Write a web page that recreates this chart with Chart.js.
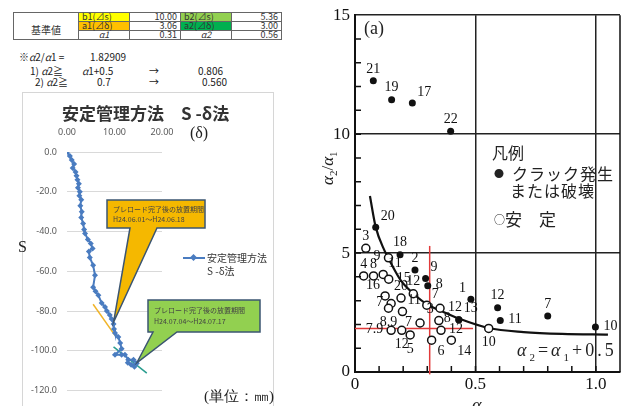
<!DOCTYPE html>
<html>
<head>
<meta charset="utf-8">
<script src="https://cdn.jsdelivr.net/npm/chart.js@4.4.1/dist/chart.umd.min.js"></script>
<style>
body{margin:0;width:628px;height:406px;overflow:hidden;position:relative;background:#fff;font-family:"Noto Sans CJK JP","Noto Sans",sans-serif;color:#222}
.t{position:absolute;white-space:nowrap;line-height:1}
.serif{font-family:"Liberation Serif","DejaVu Serif",serif}
#tbl{position:absolute;left:13px;top:12px;border-collapse:collapse;font-size:9px;color:#333}
#tbl td{border:1px solid #666;padding:0 3px;height:8px;line-height:8px}
#tbl td.n{text-align:right}
#tbl td.c{text-align:center;font-style:italic}
#tbl td.k{text-align:center;font-size:10px;padding-top:8px}
.y{background:#ffff00}.o{background:#ffc000}.lg{background:#92d050}.dg{background:#00b050}
#lframe{position:absolute;left:22px;top:92px;width:250px;height:320px;border:1px solid #d6d6d6}
#sd{position:absolute;left:22px;top:92px}
#ab{position:absolute;left:325px;top:0}
</style>
</head>
<body>

<table id="tbl">
<tr><td class="k" rowspan="3" style="width:58px">基準値</td><td class="y" style="width:44px">b1(⊿s)</td><td class="n" style="width:44px">10.00</td><td class="lg" style="width:44px">b2(⊿s)</td><td class="n" style="width:43px">5.36</td></tr>
<tr><td class="o">a1(⊿δ)</td><td class="n">3.06</td><td class="dg">a2(⊿δ)</td><td class="n">3.00</td></tr>
<tr><td class="c">α1</td><td class="n">0.31</td><td class="c">α2</td><td class="n">0.56</td></tr>
</table>

<div class="t" style="left:19px;top:52px;font-size:10px">※<i>α</i>2/<i>α</i>1 =</div>
<div class="t" style="left:90px;top:52px;font-size:10px">1.82909</div>
<div class="t" style="left:30px;top:66px;font-size:10px">1) <i>α</i>2≧</div>
<div class="t" style="left:82px;top:66px;font-size:10px"><i>α</i>1+0.5</div>
<div class="t" style="left:149px;top:66px;font-size:10px">→</div>
<div class="t" style="left:198px;top:66px;font-size:10px">0.806</div>
<div class="t" style="left:35px;top:77px;font-size:10px">2) <i>α</i>2≧</div>
<div class="t" style="left:97px;top:77px;font-size:10px">0.7</div>
<div class="t" style="left:149px;top:77px;font-size:10px">→</div>
<div class="t" style="left:202px;top:77px;font-size:10px">0.560</div>

<div id="lframe"></div>
<canvas id="sd" width="251" height="314"></canvas>
<div class="t" style="left:62px;top:104px;font-size:17px;font-weight:bold;color:#333">安定管理方法　S -δ法</div>
<div class="t serif" style="left:190px;top:125px;font-size:16px">(δ)</div>
<div class="t serif" style="left:18px;top:239px;font-size:16px">S</div>
<div class="t serif" style="left:204px;top:389px;font-size:15px">(単位：㎜)</div>
<div style="position:absolute;left:183px;top:257px;width:22px;height:2px;background:#4a7cc0"></div>
<div style="position:absolute;left:191px;top:255px;width:5px;height:5px;background:#4a7cc0;transform:rotate(45deg)"></div>
<div class="t" style="left:207px;top:253px;font-size:10px;color:#333">安定管理方法</div>
<div class="t" style="left:207px;top:266px;font-size:10px;color:#333">S -δ法</div>

<canvas id="ab" width="303" height="406"></canvas>
<div class="t serif" style="left:364px;top:19px;font-size:18px">(a)</div>
<div class="t" style="left:492px;top:144px;font-size:16px">凡例</div>
<div class="t" style="left:494px;top:165px;font-size:16px;letter-spacing:1px"><span style="font-size:10px;margin-right:7px;vertical-align:2px">●</span>クラック発生</div>
<div class="t" style="left:510px;top:182px;font-size:16px;letter-spacing:1px">または破壊</div>
<div class="t" style="left:494px;top:210px;font-size:17px"><span style="font-size:11px;vertical-align:2px">○</span>安　定</div>
<div class="t serif" style="left:517px;top:341px;font-size:18px;letter-spacing:3px"><i>α</i><sub style="font-size:11px">2</sub>=<i>α</i><sub style="font-size:11px">1</sub>+0.5</div>
<div class="t serif" style="left:312px;top:158px;font-size:17px;transform:rotate(-90deg)"><i>α</i><sub style="font-size:11px">2</sub>/<i>α</i><sub style="font-size:11px">1</sub></div>
<div class="t serif" style="left:472px;top:396px;font-size:18px"><i>α</i><sub style="font-size:11px">1</sub></div>

<script>
// S-δ (left chart)
const sdDelta = [0,0.6,1.0,1.5,1.2,1.8,2.0,2.2,2.5,2.3,2.7,2.6,3.0,2.8,3.1,3.0,3.4,3.6,3.8,4.4,5.0,5.4,4.6,4.8,5.5,5.9,5.5,6.0,6.6,7.3,8.0,8.4,9.0,9.4,9.8,9.9,10.1,10.8,11.2,11.5,10.1,11.5,12.2,12.9,14.0,14.7,13.5,12.8,14.2];
const sdS = [0,-2,-4,-6,-8,-10,-12,-14,-16,-18,-20,-22,-24,-27,-30,-33,-36,-39,-41,-44,-46,-48.5,-50,-53,-57,-62,-68,-70,-72,-76,-78,-80,-82,-84,-86.5,-89,-91,-93,-96,-99,-102,-102,-102,-104.5,-104.5,-106.3,-107,-106,-108];
const sdXTicks = [0,10,20];
const sdYTicks = [-120,-100,-80,-60,-40,-20,0];
const tanOrangeD = [5.5,10.1], tanOrangeS = [-76.6,-92.2];
const tanTealD = [9.8,16.8], tanTealS = [-98,-111.2];
const calloutText = [
  ['プレロード完了後の放置期間','H24.06.01〜H24.06.18'],
  ['プレロード完了後の放置期間','H24.07.04〜H24.07.17']
];
const calloutTipD = [9.8,14.7];
const calloutTipS = [-85.6,-106];

// α1-α2 (right chart)
const crackA1 = [0.076,0.152,0.238,0.397,0.086,0.187,0.249,0.293,0.302,0.481,0.592,0.603,0.80,0.998,0.431,0.431];
const crackA2 = [12.24,11.45,11.31,10.12,6.09,4.93,4.29,3.93,3.63,3.06,2.70,2.16,2.35,1.89,2.20,2.20];
const crackNo = ['21','19','17','22','20','18','2','9','8','1','12','11','7','10','8','13'];
const stableA1 = [0.045,0.139,0.036,0.077,0.117,0.14,0.125,0.191,0.242,0.15,0.139,0.197,0.298,0.353,0.27,0.348,0.15,0.194,0.229,0.357,0.318,0.40,0.555];
const stableA2 = [5.2,4.8,4.04,4.04,4.1,3.9,3.2,3.11,3.29,2.88,2.68,2.54,2.81,2.68,2.06,2.16,1.75,1.75,1.56,1.75,1.34,1.34,1.83];
const stableNo = ['3','9','4','8','11','15','16','20','12','7','8.9','11','7','12','7','3','7.9','12','5','12','6','14','10'];
const curveA1 = [0.062,0.086,0.124,0.14,0.19,0.242,0.298,0.35,0.431,0.555,0.7,0.86,1.05];
const curveA2 = [7.4,6.09,5.07,4.75,3.85,3.3,2.85,2.6,2.25,1.85,1.68,1.6,1.57];
const alpha1 = 0.31, ratio = 1.83;
const abXTicks = [0,0.5,1.0], abXLabels = ['0','0.5','1.0'];
const abYTicks = [0,5,10,15];

// label placement around each point
const crackPos = ['n','n','ne','n','ne','n','n','ne','e','nw','n','e','n','e','w','ne'];
const stablePos = ['n','w','n','n','ne','e','nw','n','n','w','s','ne','ne','e','w','nw','w','s','s','e','se','se','s'];

function pts(xs, ys){ return xs.map((x,i)=>({x:x, y:ys[i]})); }

const calloutPlugin = {
  id:'callouts',
  afterDatasetsDraw(chart){
    const ctx = chart.ctx, sx = chart.scales.x, sy = chart.scales.y;
    const boxes = [
      {r:[85,108,183,136], base:[108,135], fill:'#f5b800', tx:91},
      {r:[126,208,238,240], base:[131,155], fill:'#92d050', tx:132}
    ];
    boxes.forEach((b,i)=>{
      const [x0,y0,x1,y1] = b.r;
      const tx = sx.getPixelForValue(calloutTipD[i]), ty = sy.getPixelForValue(calloutTipS[i]);
      ctx.save();
      ctx.beginPath();
      ctx.moveTo(x0,y0); ctx.lineTo(x1,y0); ctx.lineTo(x1,y1);
      ctx.lineTo(b.base[1],y1); ctx.lineTo(tx,ty); ctx.lineTo(b.base[0],y1);
      ctx.lineTo(x0,y1); ctx.closePath();
      ctx.fillStyle = b.fill; ctx.fill();
      ctx.strokeStyle = '#3b5571'; ctx.lineWidth = 1.5; ctx.stroke();
      ctx.fillStyle = '#444'; ctx.font = '7px "Noto Sans CJK JP"'; ctx.textBaseline = 'middle';
      const h = y1 - y0;
      ctx.fillText(calloutText[i][0], b.tx, y0 + h*0.33);
      ctx.fillText(calloutText[i][1], b.tx, y0 + h*0.68);
      ctx.restore();
    });
  }
};

new Chart(document.getElementById('sd'), {
  type:'line',
  data:{datasets:[
    {data:pts(sdDelta,sdS), borderColor:'#4a7cc0', backgroundColor:'#4a7cc0', borderWidth:2,
     pointStyle:'rectRot', pointRadius:3, pointBorderWidth:0, tension:0},
    {data:pts(tanOrangeD,tanOrangeS), borderColor:'#f0b429', borderWidth:1.5, pointRadius:0},
    {data:pts(tanTealD,tanTealS), borderColor:'#2a9d8f', borderWidth:1.5, pointRadius:0}
  ]},
  options:{
    responsive:false, animation:false,
    layout:{padding:{left:0,right:111,top:32,bottom:12}},
    plugins:{legend:{display:false}, tooltip:{enabled:false}},
    scales:{
      x:{type:'linear', position:'top', min:0, max:20,
         afterFit(s){ s.height = 28; },
         afterBuildTicks(s){ s.ticks = sdXTicks.map(v=>({value:v})); },
         ticks:{callback:v=>v.toFixed(2), color:'#595959', font:{size:9,family:'Noto Sans'}, padding:6},
         grid:{display:false}, border:{display:false}},
      y:{type:'linear', min:-120, max:0,
         afterFit(s){ s.width = 45; },
         afterBuildTicks(s){ s.ticks = sdYTicks.map(v=>({value:v})); },
         ticks:{callback:v=>v.toFixed(1), color:'#595959', font:{size:9,family:'Noto Sans'}, padding:10},
         grid:{color:'#d9d9d9', drawTicks:false}, border:{display:false}}
    }
  },
  plugins:[calloutPlugin]
});

const offs = {n:[0,-12,'center'], s:[0,14,'center'], e:[8,-1,'left'], w:[-8,-1,'right'],
  ne:[5,-11,'left'], nw:[-5,-11,'right'], se:[6,11,'left'], sw:[-6,11,'right']};

const abPlugin = {
  id:'abExtras',
  afterDatasetsDraw(chart){
    const ctx = chart.ctx, sx = chart.scales.x, sy = chart.scales.y, a = chart.chartArea;
    ctx.save();
    ctx.strokeStyle = '#111'; ctx.lineWidth = 1.5;
    ctx.beginPath(); ctx.moveTo(a.right,a.top); ctx.lineTo(a.right,a.bottom); ctx.stroke();
    ctx.beginPath();
    for (let v=1; v<15; v++){ const y = sy.getPixelForValue(v); ctx.moveTo(a.left,y); ctx.lineTo(a.left+6,y); }
    for (let i=1; i<=10; i++){ const x = sx.getPixelForValue(i/10); ctx.moveTo(x,a.bottom); ctx.lineTo(x,a.bottom-6); }
    ctx.stroke();
    ctx.fillStyle = '#111'; ctx.font = '14px "Liberation Serif"'; ctx.textBaseline = 'middle';
    const put = (xs,ys,nos,pos)=>{
      nos.forEach((t,i)=>{
        const o = offs[pos[i]];
        ctx.textAlign = o[2];
        ctx.fillText(t, sx.getPixelForValue(xs[i])+o[0], sy.getPixelForValue(ys[i])+o[1]);
      });
    };
    put(crackA1,crackA2,crackNo,crackPos);
    put(stableA1,stableA2,stableNo,stablePos);
    ctx.restore();
  }
};

new Chart(document.getElementById('ab'), {
  type:'scatter',
  data:{datasets:[
    {data:pts(crackA1,crackA2), pointRadius:3.5, backgroundColor:'#111', borderColor:'#111', borderWidth:0},
    {data:pts(stableA1,stableA2), pointRadius:4, backgroundColor:'#fff', borderColor:'#111', borderWidth:1.5},
    {data:pts(curveA1,curveA2), showLine:true, borderColor:'#111', borderWidth:2.2, pointRadius:0, cubicInterpolationMode:'monotone'},
    {data:pts([alpha1,alpha1],[-0.1,5.3]), showLine:true, borderColor:'#e23a3a', borderWidth:1.5, pointRadius:0, clip:false},
    {data:pts([0,0.49],[ratio,ratio]), showLine:true, borderColor:'#e23a3a', borderWidth:1.5, pointRadius:0}
  ]},
  options:{
    responsive:false, animation:false,
    layout:{padding:{left:0,right:8,top:6,bottom:0}},
    plugins:{legend:{display:false}, tooltip:{enabled:false}},
    scales:{
      x:{type:'linear', min:0, max:1.1,
         afterFit(s){ s.height = 34; },
         afterBuildTicks(s){ s.ticks = abXTicks.map(v=>({value:v})); },
         ticks:{callback:(v)=>abXLabels[abXTicks.indexOf(v)], color:'#111', font:{size:17,family:'Liberation Serif'}, padding:2},
         grid:{color:'#222', lineWidth:1.5, drawTicks:false}, border:{color:'#111', width:2}},
      y:{type:'linear', min:0, max:15,
         afterFit(s){ s.width = 30; },
         afterBuildTicks(s){ s.ticks = abYTicks.map(v=>({value:v})); },
         ticks:{color:'#111', font:{size:17,family:'Liberation Serif'}, padding:5},
         grid:{color:'#222', lineWidth:1.5, drawTicks:false}, border:{color:'#111', width:2}}
    }
  },
  plugins:[abPlugin]
});
</script>
</body>
</html>
